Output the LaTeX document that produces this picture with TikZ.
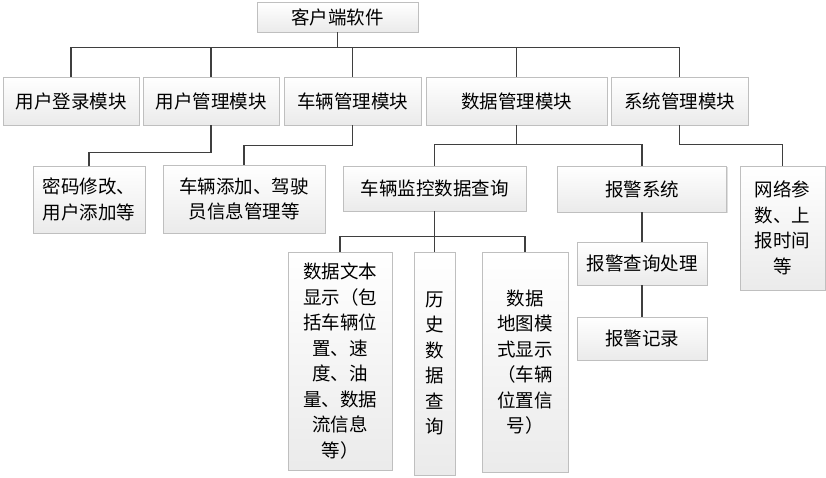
\documentclass[tikz,border=0pt]{standalone}
\usepackage{fontspec}
\newfontfamily\cjk{Noto Sans CJK SC}
\usetikzlibrary{shadows}
\definecolor{boxline}{HTML}{BFBFBF}
\definecolor{linkline}{HTML}{3F3F3F}
\begin{document}
\begin{tikzpicture}[x=1pt,y=-1pt,
	module/.style={draw=boxline, line width=0.8pt, top color=white, bottom color=gray!16,
		drop shadow={shadow xshift=1.2pt, shadow yshift=-1.2pt, opacity=0.25},
		inner sep=0pt, align=center,
		font=\cjk\fontsize{18.5}{25.5}\selectfont},
	link/.style={draw=linkline, line width=1.2pt}]
	\useasboundingbox (0,0) rectangle (826,478);
%
	% top
	\node[module, minimum width=161pt, minimum height=30pt] (root) at (337.5,17) {客户端软件};
%
	% modules
	\begin{scope}[every node/.append style={minimum height=48pt}]
		\node[module, minimum width=136pt] (login) at (71,101) {用户登录模块};
		\node[module, minimum width=136pt] (user) at (211,101) {用户管理模块};
		\node[module, minimum width=137pt] (car) at (352.5,101) {车辆管理模块};
		\node[module, minimum width=181pt] (data) at (516.5,101) {数据管理模块};
		\node[module, minimum width=137pt] (sys) at (679.5,101) {系统管理模块};
	\end{scope}
%
	% second level
	\node[module, minimum width=112pt, minimum height=67pt] (pwd) at (89,199.5) {密码修改、\\用户添加等};
	\node[module, minimum width=162pt, minimum height=68pt] (cars) at (244,199) {车辆添加、驾驶\\员信息管理等};
	\node[module, minimum width=183pt, minimum height=45pt] (monitor) at (434.5,188.5) {车辆监控数据查询};
	\node[module, minimum width=169pt, minimum height=46pt] (alarm) at (642,189) {报警系统};
	\node[module, minimum width=85pt, minimum height=124pt] (net) at (782.5,228) {网络参\\数、上\\报时间\\等};
%
	% third level
	\node[module, minimum width=104pt, minimum height=218pt] (text) at (340,361) {数据文本\\显示（包\\括车辆位\\置、速\\度、油\\量、数据\\流信息\\等）};
	\node[module, minimum width=41pt, minimum height=223pt] (hist) at (434.5,363.5) {历\\史\\数\\据\\查\\询};
	\node[module, minimum width=86pt, minimum height=220pt] (map) at (525,362) {数据\\地图模\\式显示\\（车辆\\位置信\\号）};
	\node[module, minimum width=130pt, minimum height=43pt] (query) at (642,263.5) {报警查询处理};
	\node[module, minimum width=130pt, minimum height=43pt] (record) at (642,338.5) {报警记录};
%
	% links
	\foreach \m in {login,user,car,data,sys}
		\draw[link] (root.south) -- ++(0,15) -| (\m.north);
	\draw[link] (user.south) -- ++(0,27) -| (pwd.north);
	\draw[link] (car.south) -- ++(0,20) -| (cars.north);
	\draw[link] (data.south) -- ++(0,19) -| (monitor.north);
	\draw[link] (data.south) -- ++(0,19) -| (alarm.north);
	\draw[link] (sys.south) -- ++(0,19) -| (net.north);
	\foreach \m in {text,hist,map}
		\draw[link] (monitor.south) -- ++(0,25) -| (\m.north);
	\draw[link] (alarm.south) -- (query.north);
	\draw[link] (query.south) -- (record.north);
\end{tikzpicture}
\end{document}
